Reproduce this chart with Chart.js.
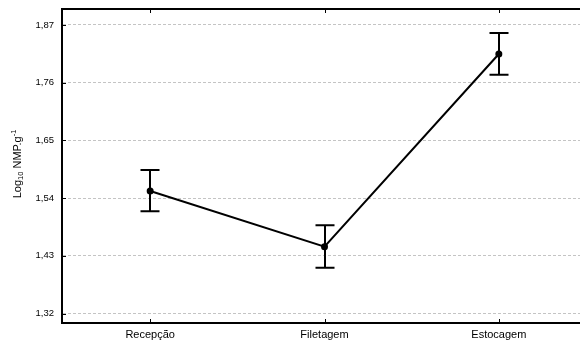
<!DOCTYPE html>
<html>
<head>
<meta charset="utf-8">
<script src="https://cdn.jsdelivr.net/npm/chart.js@4"></script>
<style>
html,body{margin:0;padding:0;background:#fff;overflow:hidden;}
#wrap{width:600px;height:342px;}
</style>
</head>
<body>
<div id="wrap"><canvas id="c" width="600" height="342"></canvas></div>
<script>
const categories = ["Recepção", "Filetagem", "Estocagem"];
const means = [1.5536, 1.4474, 1.8147];
const upperBounds = [1.5936, 1.4882, 1.8547];
const lowerBounds = [1.5149, 1.4074, 1.7753];
const yTickValues = [1.32, 1.43, 1.54, 1.65, 1.76, 1.87];
const yMin = 1.302;
const yMax = 1.9024;

const FONT = "'Liberation Sans', Arial, sans-serif";

const decor = {
  id: 'decor',
  afterDatasetsDraw(chart) {
    const ctx = chart.ctx;
    const xs = chart.scales.x, ys = chart.scales.y;
    const a = chart.chartArea;
    ctx.save();
    // error bars
    ctx.strokeStyle = '#000';
    ctx.lineWidth = 2;
    for (let i = 0; i < categories.length; i++) {
      const x = Math.round(xs.getPixelForValue(i));
      const yt = ys.getPixelForValue(upperBounds[i]);
      const yb = ys.getPixelForValue(lowerBounds[i]);
      ctx.beginPath();
      ctx.moveTo(x, yt); ctx.lineTo(x, yb);
      ctx.moveTo(x - 9.5, yt); ctx.lineTo(x + 9.5, yt);
      ctx.moveTo(x - 9.5, yb); ctx.lineTo(x + 9.5, yb);
      ctx.stroke();
    }
    // frame
    ctx.lineWidth = 2;
    ctx.beginPath();
    ctx.moveTo(a.left - 1, a.top); ctx.lineTo(a.left - 1, a.bottom + 1);
    ctx.moveTo(a.left - 2, a.top + 1); ctx.lineTo(a.right + 20, a.top + 1);
    ctx.moveTo(a.left - 2, a.bottom); ctx.lineTo(a.right + 20, a.bottom);
    ctx.stroke();
    // small ticks
    ctx.lineWidth = 1;
    ctx.strokeStyle = '#000';
    ctx.beginPath();
    for (const v of yTickValues) {
      const y = Math.round(ys.getPixelForValue(v)) + 0.5;
      ctx.moveTo(a.left, y); ctx.lineTo(a.left + 3, y);
    }
    for (let i = 0; i < categories.length; i++) {
      const x = Math.round(xs.getPixelForValue(i)) + 0.5;
      ctx.moveTo(x, a.top + 2); ctx.lineTo(x, a.top + 5);
      ctx.moveTo(x, a.bottom - 1); ctx.lineTo(x, a.bottom - 4);
    }
    ctx.stroke();
    // y title: Log10 NMP.g-1
    ctx.translate(21, 164);
    ctx.rotate(-Math.PI / 2);
    ctx.fillStyle = '#000';
    ctx.textBaseline = 'alphabetic';
    const parts = [
      ["Log", 11, 0],
      ["10", 7.5, 2],
      [" NMP.g", 11, 0],
      ["-1", 7.5, -5]
    ];
    let w = 0;
    for (const p of parts) { ctx.font = p[1] + "px " + FONT; w += ctx.measureText(p[0]).width; }
    let x = -w / 2;
    for (const p of parts) {
      ctx.font = p[1] + "px " + FONT;
      ctx.fillText(p[0], x, p[2]);
      x += ctx.measureText(p[0]).width;
    }
    ctx.restore();
  }
};

new Chart(document.getElementById('c'), {
  type: 'line',
  data: {
    labels: categories,
    datasets: [{
      data: means,
      borderColor: '#000',
      backgroundColor: '#000',
      borderWidth: 2,
      pointRadius: 3.5,
      pointBackgroundColor: '#000',
      pointBorderWidth: 0,
      tension: 0,
      fill: false
    }]
  },
  options: {
    responsive: false,
    animation: false,
    devicePixelRatio: 1,
    layout: { padding: { top: 8, right: 14, left: 0, bottom: 0 } },
    plugins: { legend: { display: false }, tooltip: { enabled: false } },
    scales: {
      y: {
        min: yMin,
        max: yMax,
        afterBuildTicks: (s) => { s.ticks = yTickValues.map(v => ({ value: v })); },
        afterFit: (s) => { s.width = 63; s.paddingTop = 0; s.paddingBottom = 0; },
        grid: { color: '#c4c4c4', lineWidth: 1, drawTicks: false },
        border: { display: false, dash: [3, 2] },
        ticks: {
          padding: 9,
          color: '#000',
          font: { family: FONT, size: 9.5 },
          callback: (v) => Number(v).toFixed(2).replace('.', ',')
        }
      },
      x: {
        offset: true,
        afterFit: (s) => { s.height = 19; s.paddingLeft = 0; s.paddingRight = 0; },
        grid: { display: false, drawTicks: false },
        border: { display: false },
        ticks: {
          padding: 5,
          color: '#000',
          font: { family: FONT, size: 11 }
        }
      }
    }
  },
  plugins: [decor]
});
</script>
</body>
</html>
